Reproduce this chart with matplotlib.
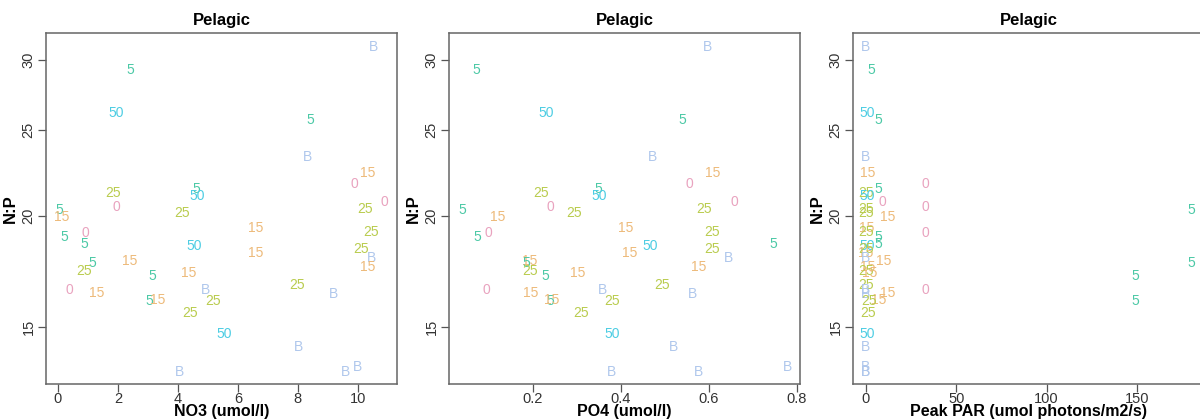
import matplotlib
matplotlib.use("Agg")
import matplotlib.pyplot as plt

plt.rcParams['font.family'] = ['Liberation Sans', 'DejaVu Sans']

# depth label of each sample
labels = ["B", "5", "50", "5", "B", "15", "0", "25", "5", "50",
          "0", "0", "5", "25", "25", "15", "5", "0", "5", "15",
          "25", "50", "15", "25", "B", "15", "15", "5", "25", "5",
          "15", "25", "0", "15", "B", "B", "5", "15", "25", "25",
          "50", "B", "B", "B", "B"]

np_ratio = [31.03, 29.23, 26.14, 25.67, 23.32, 22.37, 21.74, 21.24, 21.46, 21.07,
            20.75, 20.48, 20.32, 20.16, 20.37, 19.95, 18.94, 19.14, 18.60, 19.39,
            19.19, 18.51, 18.17, 18.36, 17.94, 17.52, 17.80, 17.71, 17.34, 17.12,
            17.25, 16.72, 16.51, 16.38, 16.51, 16.34, 16.04, 16.08, 16.04, 15.55,
            14.72, 14.24, 13.34, 13.34, 13.52]

no3 = [10.53, 2.42, 1.95, 8.40, 8.33, 10.33, 9.87, 1.85, 4.62, 4.65,
       10.87, 1.95, 0.04, 4.15, 10.23, 0.14, 0.21, 0.91, 0.88, 6.59,
       10.43, 4.55, 6.59, 10.10, 10.47, 10.33, 2.38, 1.15, 0.88, 3.15,
       4.35, 7.96, 0.38, 1.31, 4.92, 9.20, 3.05, 3.32, 5.16, 4.42,
       5.56, 8.03, 4.05, 9.60, 10.00]

po4 = [0.598, 0.071, 0.230, 0.539, 0.473, 0.610, 0.557, 0.219, 0.348, 0.351,
       0.658, 0.239, 0.039, 0.294, 0.589, 0.121, 0.073, 0.098, 0.746, 0.412,
       0.608, 0.467, 0.421, 0.608, 0.644, 0.578, 0.192, 0.185, 0.194, 0.228,
       0.301, 0.494, 0.094, 0.196, 0.358, 0.562, 0.239, 0.244, 0.380, 0.310,
       0.380, 0.519, 0.378, 0.576, 0.778]

par = [0, 3, 0.5, 7, 0, 1, 33, 0, 7, 0.5,
       9, 33, 180, 0, 0, 12, 7, 33, 7, 0.5,
       0, 0.5, 0, 0, 0, 1, 10, 180, 0, 149,
       2, 0, 33, 12, 0, 0, 149, 7, 1.5, 1,
       0.5, 0, 0, 0, 0]

colors = {"0": "#E9A3BF", "5": "#4CC9A6", "15": "#EDBA7A",
          "25": "#B9CC4E", "50": "#4DCDE3", "B": "#AFC7EC"}

panels = [
    (no3, "NO3 (umol/l)", [0, 2, 4, 6, 8, 10], ["0", "2", "4", "6", "8", "10"]),
    (po4, "PO4 (umol/l)", [0.2, 0.4, 0.6, 0.8], ["0.2", "0.4", "0.6", "0.8"]),
    (par, "Peak PAR (umol photons/m2/s)", [0, 50, 100, 150], ["0", "50", "100", "150"]),
]
lefts = [46, 449, 853]

fig = plt.figure(figsize=(12, 4.19), dpi=100)

for (xs, xlabel, xt, xtl), left in zip(panels, lefts):
    ax = fig.add_axes([left / 1200, 35 / 419, 351 / 1200, 351 / 419])
    ax.set_yscale("log")
    lo, hi = min(xs), max(xs)
    r = hi - lo
    ax.set_xlim(lo - 0.04 * r, hi + 0.04 * r)
    ax.set_ylim(12.93, 32.18)
    for x, y, lab in zip(xs, np_ratio, labels):
        ax.text(x, y, lab, color=colors[lab], fontsize=10, ha="center", va="center")

    ax.set_xticks(xt)
    ax.set_xticklabels(xtl, fontsize=10.5, color="#333333")
    ax.set_yticks([15, 20, 25, 30])
    ax.set_yticklabels(["15", "20", "25", "30"], fontsize=10.5, rotation=90,
                       va="center", color="#333333")
    ax.yaxis.set_minor_locator(matplotlib.ticker.NullLocator())
    ax.tick_params(length=6, width=0.9, color="#555555")
    ax.tick_params(axis="x", pad=0)
    ax.tick_params(axis="y", pad=1.5)
    for s in ax.spines.values():
        s.set_color("#666666")
        s.set_linewidth(1.1)

    ax.set_xlabel(xlabel, fontsize=11.5, fontweight="bold", labelpad=-1.5)
    ax.set_ylabel("N:P", fontsize=12, fontweight="bold", labelpad=3)
    ax.set_title("Pelagic", fontsize=12, fontweight="bold", pad=6)

fig.savefig("out.png", dpi=100)
